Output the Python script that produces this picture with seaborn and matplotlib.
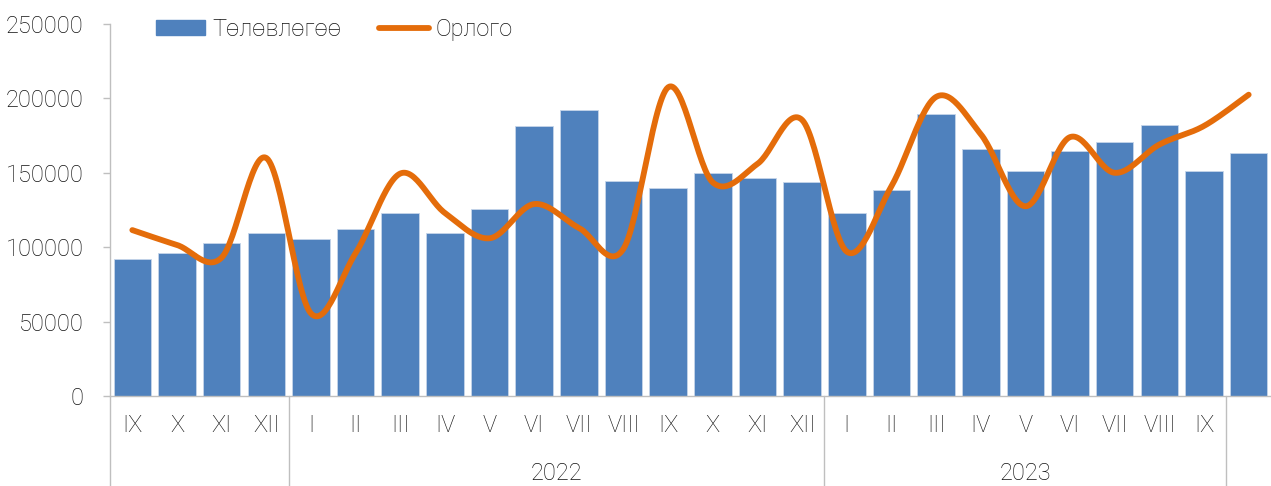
import numpy as np
import pandas as pd
import matplotlib
matplotlib.use("Agg")
import matplotlib.pyplot as plt
import matplotlib.transforms as mtransforms
from matplotlib.patches import Patch
from matplotlib.lines import Line2D
import seaborn as sns

# data
months = ["IX", "X", "XI", "XII",
          "I", "II", "III", "IV", "V", "VI", "VII", "VIII", "IX", "X", "XI", "XII",
          "I", "II", "III", "IV", "V", "VI", "VII", "VIII", "IX", ""]
years = ["", "2022", "2023"]
year_spans = [(0, 4), (4, 16), (16, 25)]
plan = [92000, 96000, 103000, 109500,
        105500, 112000, 123000, 109500, 125500, 181500, 192000, 144500,
        140000, 150000, 146500, 144000,
        123000, 138500, 189500, 166000, 151000, 164500, 170500, 182000, 151000, 163500]
income = [111500, 101500, 93000, 160000,
          55500, 96000, 149500, 123000, 106000, 129000, 113000, 99000,
          207500, 143500, 156000, 185500,
          97000, 141000, 201000, 176000, 127500, 174000, 150000, 169000, 181500, 202500]

bar_color = "#4F81BD"
line_color = "#E46C0A"
grey = "#BFBFBF"
txt = "#111111"

df = pd.DataFrame({"pos": np.arange(len(plan)), "plan": plan})


def catmull_rom(x, y, n=30):
    # smooth curve through the points, like the spreadsheet "smoothed line"
    px = np.concatenate([[x[0]], x, [x[-1]]]).astype(float)
    py = np.concatenate([[y[0]], y, [y[-1]]]).astype(float)
    t = np.linspace(0, 1, n)[:-1]
    xs, ys = [], []
    for i in range(1, len(px) - 2):
        for p, out in ((px, xs), (py, ys)):
            p0, p1, p2, p3 = p[i - 1], p[i], p[i + 1], p[i + 2]
            out.extend(0.5 * (2 * p1 + (-p0 + p2) * t
                              + (2 * p0 - 5 * p1 + 4 * p2 - p3) * t ** 2
                              + (-p0 + 3 * p1 - 3 * p2 + p3) * t ** 3))
    xs.append(px[-2])
    ys.append(py[-2])
    return np.array(xs), np.array(ys)


sns.set_style("white")
plt.rcParams["font.family"] = ["Roboto", "DejaVu Sans"]
plt.rcParams["font.weight"] = "light"

fig = plt.figure(figsize=(12.71, 4.86), dpi=100)
ax = fig.add_axes([110 / 1271, 1 - 396 / 486, 1 - 110 / 1271, (396 - 24) / 486])

sns.barplot(data=df, x="pos", y="plan", color=bar_color, saturation=1,
            width=0.84, edgecolor="#C6D5EA", linewidth=0.6, ax=ax)

sx, sy = catmull_rom(np.arange(len(income)), np.array(income))
sns.lineplot(x=sx, y=sy, sort=False, color=line_color, lw=4.2,
             solid_capstyle="round", ax=ax)

ax.set_xlim(-0.5, len(plan) - 0.5)
ax.set_ylim(0, 250000)
ax.set_yticks(np.arange(0, 250001, 50000))
ax.set_yticklabels([str(v) for v in range(0, 250001, 50000)])
ax.set_xlabel("")
ax.set_ylabel("")
ax.set_xticks([])

for s in ["top", "right"]:
    ax.spines[s].set_visible(False)
for s in ["left", "bottom"]:
    ax.spines[s].set_color(grey)
    ax.spines[s].set_linewidth(1)
ax.tick_params(axis="y", left=True, length=5, width=1, color=grey,
               labelsize=17, pad=14, labelcolor=txt)

# month labels and year grouping
trans = mtransforms.blended_transform_factory(ax.transData, ax.transAxes)
for i, m in enumerate(months):
    ax.text(i, -30 / 372, m, transform=trans, ha="center", va="center",
            fontsize=17, color=txt)
bounds = [-0.5, 3.5, 15.5, 24.5]
for b in bounds:
    ax.plot([b, b], [0, -90 / 372], transform=trans, color=grey, lw=1,
            clip_on=False)
for yr, (a, b) in zip(years, year_spans):
    if yr:
        ax.text((a + b - 1) / 2, -77 / 372, yr, transform=trans, ha="center",
                va="center", fontsize=17, color=txt)

handles = [Patch(facecolor=bar_color, edgecolor=bar_color),
           Line2D([], [], color=line_color, lw=4.2, solid_capstyle="round")]
ax.legend(handles, ["Төлөвлөгөө", "Орлого"], loc="center left",
          bbox_to_anchor=(0.021, 0.985), ncol=2, frameon=False, fontsize=17,
          handlelength=2.1, handleheight=0.6, handletextpad=0.3,
          columnspacing=1.6, labelcolor=txt)

fig.savefig("out.png", dpi=100)
